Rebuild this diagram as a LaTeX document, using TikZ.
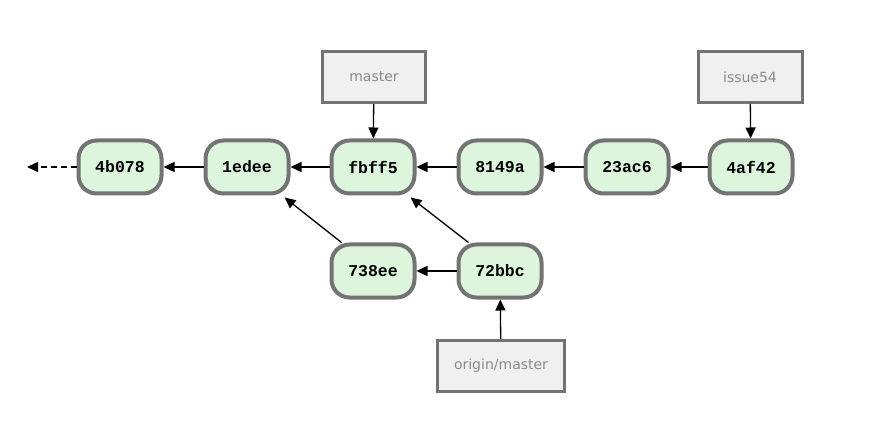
\documentclass[tikz,border=0pt]{standalone}
\usepackage{fontspec}
\setmainfont{DejaVu Sans}
\newfontfamily\commitfont{Liberation Mono}
\usepackage{tikz}
\usetikzlibrary{arrows.meta,positioning,calc}

\definecolor{commitfill}{HTML}{DDF4DD}
\definecolor{boxline}{HTML}{737373}
\definecolor{reffill}{HTML}{F0F0F0}
\definecolor{reftext}{HTML}{8A8A8A}

\tikzset{
  commit/.style={draw=boxline, line width=4pt, fill=commitfill, rounded corners=18pt,
    minimum width=83pt, minimum height=53pt, inner sep=0pt,
    font=\commitfont\bfseries\fontsize{16.5}{18}\selectfont},
  branch/.style={draw=boxline, line width=3pt, fill=reffill,
    minimum height=51pt, inner sep=0pt, text=reftext,
    font=\fontsize{14}{16}\selectfont},
  parent/.style={line width=1.3pt, -{Triangle[length=11pt,width=10pt]}}
}

\begin{document}
\begin{tikzpicture}[x=1pt,y=-1pt]
  \useasboundingbox (0,0) rectangle (874,435);
  % commits
  \node[commit] (c4b078) at (120, 167) {4b078};
  \node[commit] (c1edee) at (247, 167) {1edee};
  \node[commit] (cfbff5) at (373, 167) {fbff5};
  \node[commit] (c8149a) at (500, 167) {8149a};
  \node[commit] (c23ac6) at (627, 167) {23ac6};
  \node[commit] (c4af42) at (751, 167) {4af42};
  \node[commit] (c738ee) at (373, 271) {738ee};
  \node[commit] (c72bbc) at (500, 271) {72bbc};
  % branches
  \node[branch, minimum width=103pt] (master) at (374, 77) {master};
  \node[branch, minimum width=104pt] (issue) at (750, 77) {issue54};
  \node[branch, minimum width=127pt] (origin) at (501, 366) {origin/master};
  \coordinate (older) at (27, 167);
  % history
  \draw[parent, dash pattern=on 6pt off 4pt] (c4b078) -- (older);
  \draw[parent] (c1edee) -- (c4b078);
  \draw[parent] (cfbff5) -- (c1edee);
  \draw[parent] (c8149a) -- (cfbff5);
  \draw[parent] (c23ac6) -- (c8149a);
  \draw[parent] (c4af42) -- (c23ac6);
  \draw[parent] (c72bbc) -- (c738ee);
  \draw[parent] ($(c738ee.north west)+(12,0)$) -- ($(c1edee.south east)+(-6,2)$);
  \draw[parent] ($(c72bbc.north west)+(12,0)$) -- ($(cfbff5.south east)+(-6,2)$);
  % refs
  \draw[parent] (master) -- (cfbff5);
  \draw[parent] (issue) -- (c4af42);
  \draw[parent] (origin) -- (c72bbc);
\end{tikzpicture}
\end{document}
